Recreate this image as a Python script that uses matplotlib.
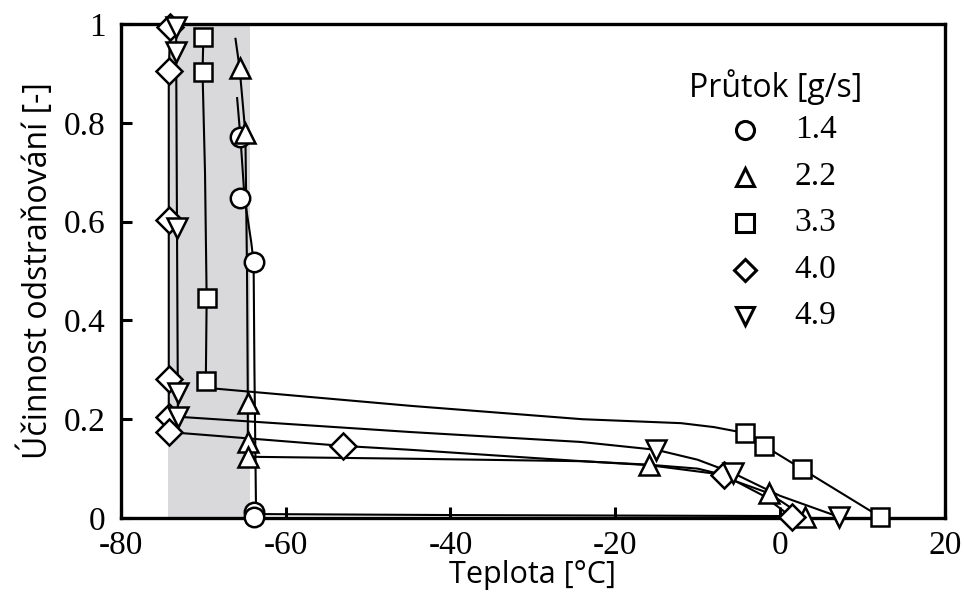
import numpy as np
import matplotlib
matplotlib.use("Agg")
import matplotlib.pyplot as plt

# flow rates [g/s]
labels = ["1.4", "2.2", "3.3", "4.0", "4.9"]
markers = ["o", "^", "s", "D", "v"]

# measured points (temperature, efficiency)
pts_x = [
    [-65.5, -65.6, -63.9, -63.8, -63.8],
    [-65.6, -64.9, -64.6, -64.6, -64.6, -15.9, -1.3, 3.0],
    [-70.0, -70.1, -69.5, -69.7, -4.2, -1.9, 2.7, 12.2],
    [-74.0, -74.2, -74.2, -74.2, -74.2, -74.2, -53.1, -6.8, 1.4],
    [-73.3, -73.3, -73.2, -73.1, -73.1, -15.0, -5.7, 7.2],
]
pts_y = [
    [0.771, 0.648, 0.518, 0.012, 0.002],
    [0.911, 0.779, 0.233, 0.154, 0.124, 0.107, 0.050, 0.002],
    [0.974, 0.903, 0.445, 0.277, 0.172, 0.146, 0.099, 0.002],
    [0.994, 0.905, 0.603, 0.281, 0.205, 0.174, 0.146, 0.087, 0.002],
    [0.994, 0.943, 0.587, 0.253, 0.205, 0.138, 0.091, 0.002],
]

# fitted curves
crv_x = [
    [-65.9, -65.5, -65.0, -64.2, -63.9, -63.8, -63.6, -40.0, -20.0, 0.0],
    [-66.1, -65.6, -64.9, -64.7, -64.6, -64.6, -64.6, -44.8, -24.0, -15.9, -8.0, -1.3, 3.0],
    [-70.0, -70.1, -69.8, -69.6, -69.7, -68.6, -44.8, -24.0, -12.0, -8.0, -4.2, -1.9, 2.7, 12.2],
    [-74.0, -74.2, -74.2, -74.2, -74.2, -74.2, -53.1, -44.8, -24.0, -16.0, -10.0, -6.8, -2.0, 1.4],
    [-73.3, -73.3, -73.2, -73.1, -73.1, -44.8, -24.2, -15.0, -10.0, -5.7, 0.0, 7.2],
]
crv_y = [
    [0.850, 0.771, 0.648, 0.560, 0.518, 0.300, 0.008, 0.006, 0.005, 0.004],
    [0.970, 0.911, 0.779, 0.500, 0.233, 0.154, 0.124, 0.120, 0.115, 0.107, 0.090, 0.050, 0.002],
    [0.974, 0.903, 0.700, 0.445, 0.277, 0.262, 0.227, 0.200, 0.192, 0.184, 0.172, 0.146, 0.099, 0.002],
    [0.994, 0.905, 0.603, 0.281, 0.205, 0.174, 0.146, 0.138, 0.115, 0.108, 0.100, 0.087, 0.045, 0.002],
    [0.994, 0.943, 0.587, 0.253, 0.205, 0.174, 0.154, 0.138, 0.118, 0.091, 0.045, 0.002],
]

xticks = [-80, -60, -40, -20, 0, 20]
xticklabels = ["-80", "-60", "-40", "-20", "0", "20"]
yticks = [0, 0.2, 0.4, 0.6, 0.8, 1.0]
yticklabels = ["0", "0.2", "0.4", "0.6", "0.8", "1"]

shade = (-74.3, -64.3)

serif = "Liberation Serif"
sans = "Open Sans"

fig = plt.figure(figsize=(9.64, 5.97), dpi=100)
ax = fig.add_axes([0.1255, 0.1323, 0.8545, 0.8275])

ax.axvspan(shade[0], shade[1], color="#d9d9dc", zorder=0, lw=0)

for i in range(len(labels)):
    ax.plot(crv_x[i], crv_y[i], color="black", lw=1.5, zorder=2)
    ms = 13 if markers[i] in ("D", "s") else 14
    ax.plot(pts_x[i], pts_y[i], ls="none", marker=markers[i], ms=ms,
            mfc="white", mec="black", mew=1.8, zorder=3, clip_on=False)

ax.set_xlim(-80, 20)
ax.set_ylim(0, 1)
ax.set_xticks(xticks)
ax.set_xticklabels(xticklabels)
ax.set_yticks(yticks)
ax.set_yticklabels(yticklabels)
ax.tick_params(direction="in", length=8, width=2.2, labelsize=24)
ax.tick_params(axis="x", pad=9)
ax.tick_params(axis="y", pad=11)
for lab in ax.get_xticklabels() + ax.get_yticklabels():
    lab.set_fontfamily(serif)
for s in ax.spines.values():
    s.set_linewidth(2.4)

ax.set_xlabel("Teplota [°C]", fontsize=22, family=sans, labelpad=-1)
ax.set_ylabel("Účinnost odstraňování [-]", fontsize=23, family=sans, labelpad=6)

# legend
ax.text(0.69, 0.873, "Průtok [g/s]", transform=ax.transAxes, fontsize=23,
        family=sans, ha="left", va="center")
for i in range(len(labels)):
    yy = 0.785 - i * 0.094
    ax.plot([0.757], [yy], transform=ax.transAxes, ls="none", marker=markers[i],
            ms=13 if markers[i] != "D" else 11.5, mfc="white", mec="black", mew=2.2,
            clip_on=False)
    ax.text(0.818, yy, labels[i], transform=ax.transAxes, fontsize=24,
            family=serif, ha="left", va="center")

fig.savefig("out.png", dpi=100)
